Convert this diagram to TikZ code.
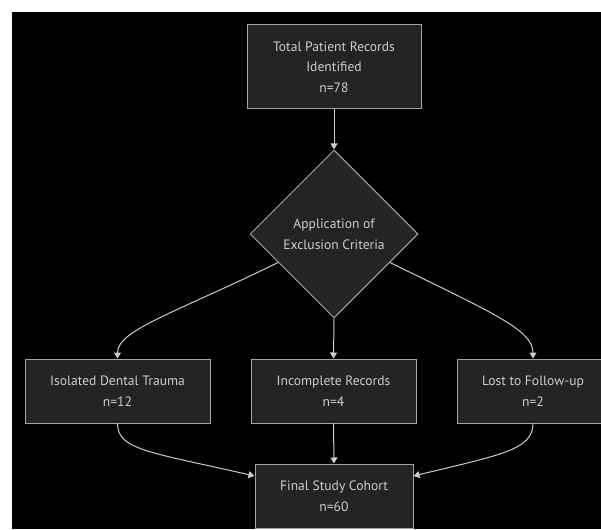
\documentclass[tikz,border=0pt]{standalone}
\usepackage{fontspec}
\setmainfont{PT Sans}
\usetikzlibrary{shapes.geometric,arrows.meta}
\definecolor{boxfill}{RGB}{35,36,35}
\definecolor{boxline}{RGB}{165,165,165}
\definecolor{edgecol}{RGB}{205,205,205}
\definecolor{txtcol}{RGB}{205,205,205}
\tikzset{
  base/.style={draw=boxline, fill=boxfill, line width=1pt, text=txtcol, align=center, inner sep=0pt,
    font=\fontsize{13.6}{20.5}\selectfont},
  procbox/.style={base, rectangle, minimum height=64pt},
  decbox/.style={base, diamond, minimum width=168pt, minimum height=168pt, aspect=1},
  link/.style={draw=edgecol, line width=1pt, -{Triangle[length=6pt,width=7pt]}}
}
\begin{document}
\begin{tikzpicture}[x=1pt,y=-1pt]
\useasboundingbox (0,0) rectangle (601,529);
\fill[white] (0,0) rectangle (601,529);
\fill[black] (12,12) rectangle (601,529);
\node[procbox, minimum width=174pt, minimum height=84pt] (top) at (334,67) {Total Patient Records\\Identified\\n=78};
\node[decbox] (dec) at (334,234) {Application of\\Exclusion Criteria};
\node[procbox, minimum width=185pt] (a) at (117.5,391) {Isolated Dental Trauma\\n=12};
\node[procbox, minimum width=165pt] (b) at (333.5,391) {Incomplete Records\\n=4};
\node[procbox, minimum width=152pt] (c) at (533,391) {Lost to Follow-up\\n=2};
\node[procbox, minimum width=158pt] (fin) at (334,496) {Final Study Cohort\\n=60};
\draw[link] (top.south) -- (dec.north);
\draw[link] (dec.207) .. controls (175,313) and (117.5,330) .. (a.north);
\draw[link] (dec.south) -- (b.north);
\draw[link] (dec.333) .. controls (493,313) and (533,330) .. (c.north);
\draw[link] (a.south) .. controls (117.5,450) and (150,452) .. ([yshift=20pt]fin.west);
\draw[link] (b.south) -- (fin.north);
\draw[link] (c.south) .. controls (533,450) and (500,455) .. ([yshift=20pt]fin.east);
\end{tikzpicture}
\end{document}
